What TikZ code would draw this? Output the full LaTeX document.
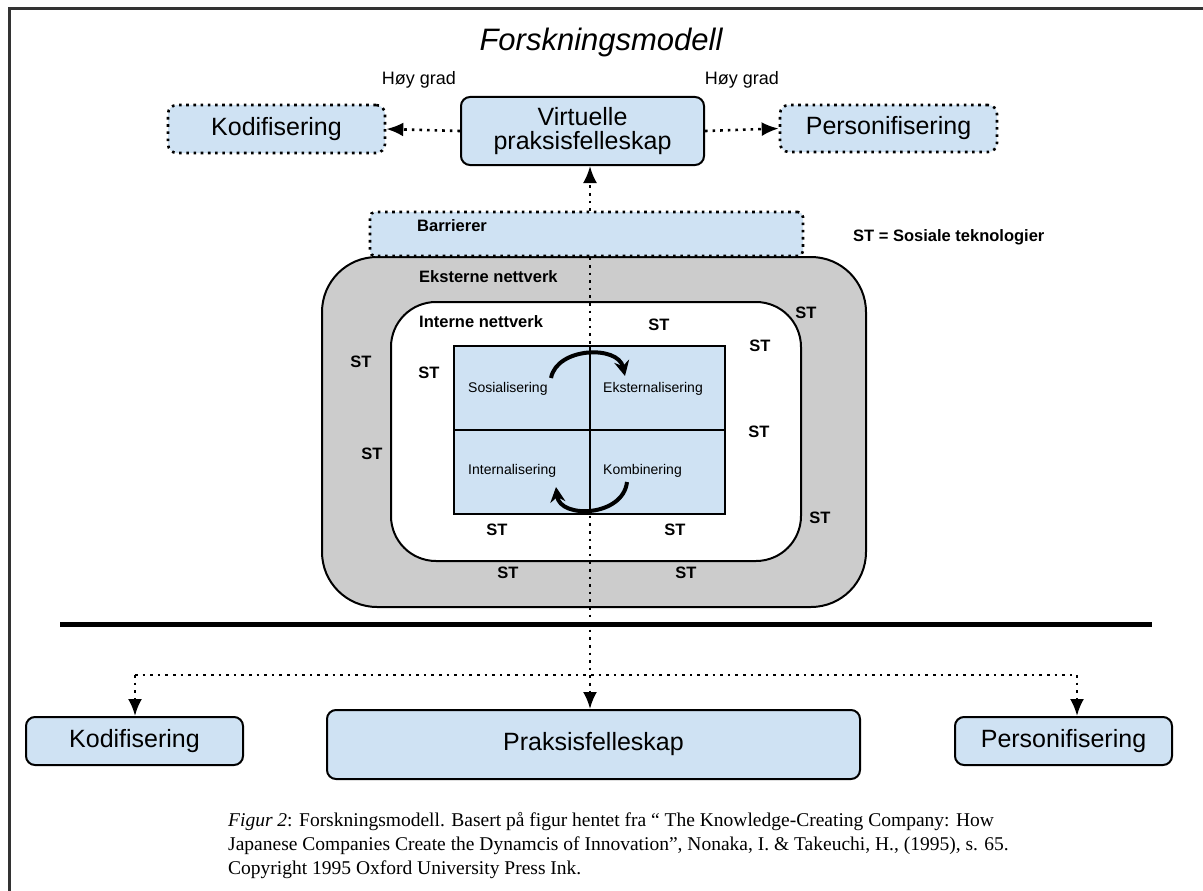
\documentclass[tikz,border=0pt]{standalone}
\usepackage{fontspec}
\setmainfont{Liberation Serif}
\setsansfont{Liberation Sans}
\usetikzlibrary{arrows.meta}
\usetikzlibrary{calc}
\definecolor{boxblue}{HTML}{CFE2F3}
\definecolor{netgray}{HTML}{CCCCCC}
\definecolor{framegray}{HTML}{333333}
\newcommand{\pxsize}[1]{\fontsize{#1}{#1}\selectfont}

\begin{document}
\begin{tikzpicture}[x=1pt,y=-1pt,
    solidbox/.style={draw=black, line width=2pt, fill=boxblue, rounded corners=9pt, inner sep=0pt, font=\sffamily\pxsize{25}, align=center},
    dotbox/.style={solidbox, line width=2.6pt, dash pattern=on 2.6pt off 4.6pt},
    netbox/.style={draw=black, line width=2pt, rounded corners=#1, inner sep=0pt},
    dotline/.style={line width=2.6pt, dash pattern=on 2.6pt off 5pt},
    dotarrow/.style={dotline, -{Latex[length=17pt,width=14pt]}},
    cyclearrow/.style={line width=4pt, -{Stealth[length=15pt,width=15pt]}},
    boldlabel/.style={font=\sffamily\bfseries\pxsize{16.5}, inner sep=0pt},
    quadlabel/.style={font=\sffamily\pxsize{14}, inner sep=0pt, anchor=west},
    gradlabel/.style={font=\sffamily\pxsize{18}, inner sep=0pt},
    caption/.style={font=\rmfamily\pxsize{19.5}, inner sep=0pt, anchor=west}]
  \useasboundingbox (0,0) rectangle (1203,891);
  \draw [framegray, line width=3pt] (9,891) -- (9,9) -- (1203,9); % Draws the frame

  \node [font=\sffamily\itshape\pxsize{31}, inner sep=0pt] (title) at (601,42) {Forskningsmodell};

  \node [dotbox, minimum width=217pt, minimum height=48pt] (kodtop) at (276.5,129) {Kodifisering};
  \node [solidbox, minimum width=243pt, minimum height=68pt] (virt) at (582.5,131) {Virtuelle\\[-1pt]praksisfelleskap};
  \node [dotbox, minimum width=217pt, minimum height=47pt] (pertop) at (888.5,128.5) {Personifisering};
  \node [gradlabel] (gradl) at (419,80) {Høy grad};
  \node [gradlabel] (gradr) at (742,80) {Høy grad};

  \draw [dotarrow] (virt.west) -- (kodtop.east);
  \draw [dotarrow] (virt.east) -- (pertop.west);

  % nettverk
  \node [netbox=55pt, fill=netgray, minimum width=544pt, minimum height=350pt] (ekst) at (594,432) {};
  \node [netbox=45pt, fill=white, minimum width=410pt, minimum height=259pt] (intern) at (596,431.5) {};
  \node [dotbox, rounded corners=5pt, minimum width=433pt, minimum height=44pt] (barr) at (586.5,234) {};
  \node [boldlabel, anchor=west] (barrtext) at (417,226) {Barrierer};
  \node [boldlabel, anchor=west] (eksttext) at (419,277) {Eksterne nettverk};
  \node [boldlabel, anchor=west] (interntext) at (419,322) {Interne nettverk};
  \node [boldlabel, anchor=west] (stkey) at (853,237) {ST = Sosiale teknologier};

  % bottom row
  \node [solidbox, minimum width=217pt, minimum height=48pt] (kodbot) at (134.5,741) {Kodifisering};
  \node [solidbox, minimum width=533pt, minimum height=69pt] (praks) at (593.5,744.5) {Praksisfelleskap};
  \node [solidbox, minimum width=217pt, minimum height=48pt] (perbot) at (1063.5,741) {Personifisering};

  \coordinate (spine) at (590,0);
  \coordinate (lfork) at (135,675);
  \coordinate (rfork) at (1077,675);
  \draw [dotarrow] (barr.north -| spine) -- (virt.south -| spine);
  \draw [dotarrow] (barr.south -| spine) -- (praks.north -| spine);
  \draw [dotline] (lfork) -- (rfork);
  \draw [dotarrow] (lfork) -- (lfork |- kodbot.north);
  \draw [dotarrow] (rfork) -- (rfork |- perbot.north);

  % SECI
  \node [draw=black, line width=1.5pt, fill=boxblue, minimum width=271pt, minimum height=168pt, inner sep=0pt] (seci) at (589.5,430) {};
  \draw [line width=2pt] (seci.north -| spine) -- (seci.south -| spine);
  \draw [line width=2pt] (seci.west) -- (seci.east);
  \node [quadlabel] (sos) at (468,389) {Sosialisering};
  \node [quadlabel] (eks) at (603,389) {Eksternalisering};
  \node [quadlabel] (int) at (468,471) {Internalisering};
  \node [quadlabel] (kom) at (603,471) {Kombinering};
  \draw [cyclearrow] (551,378) .. controls (557,347) and (618,345) .. (625,376);
  \draw [cyclearrow] (627,482) .. controls (623,517) and (560,519) .. (556,487);

  \foreach \x/\y [count=\i] in {806/313, 659/325, 760/346, 361/362, 429/373, 372/454, 759/432, 820/518, 497/530, 675/530, 508/573, 686/573}
    \node [boldlabel] (st\i) at (\x,\y) {ST};

  \draw [line width=5pt] (60,624) -- (1152,624); % Draws the divider

  \node [caption] (cap1) at (228,822) {\textit{Figur 2}: Forskningsmodell. Basert på figur hentet fra “ The Knowledge-Creating Company: How};
  \node [caption] (cap2) at (228,846) {Japanese Companies Create the Dynamcis of Innovation”, Nonaka, I. \& Takeuchi, H., (1995), s. 65.};
  \node [caption] (cap3) at (228,870) {Copyright 1995 Oxford University Press Ink.};
\end{tikzpicture}
\end{document}
